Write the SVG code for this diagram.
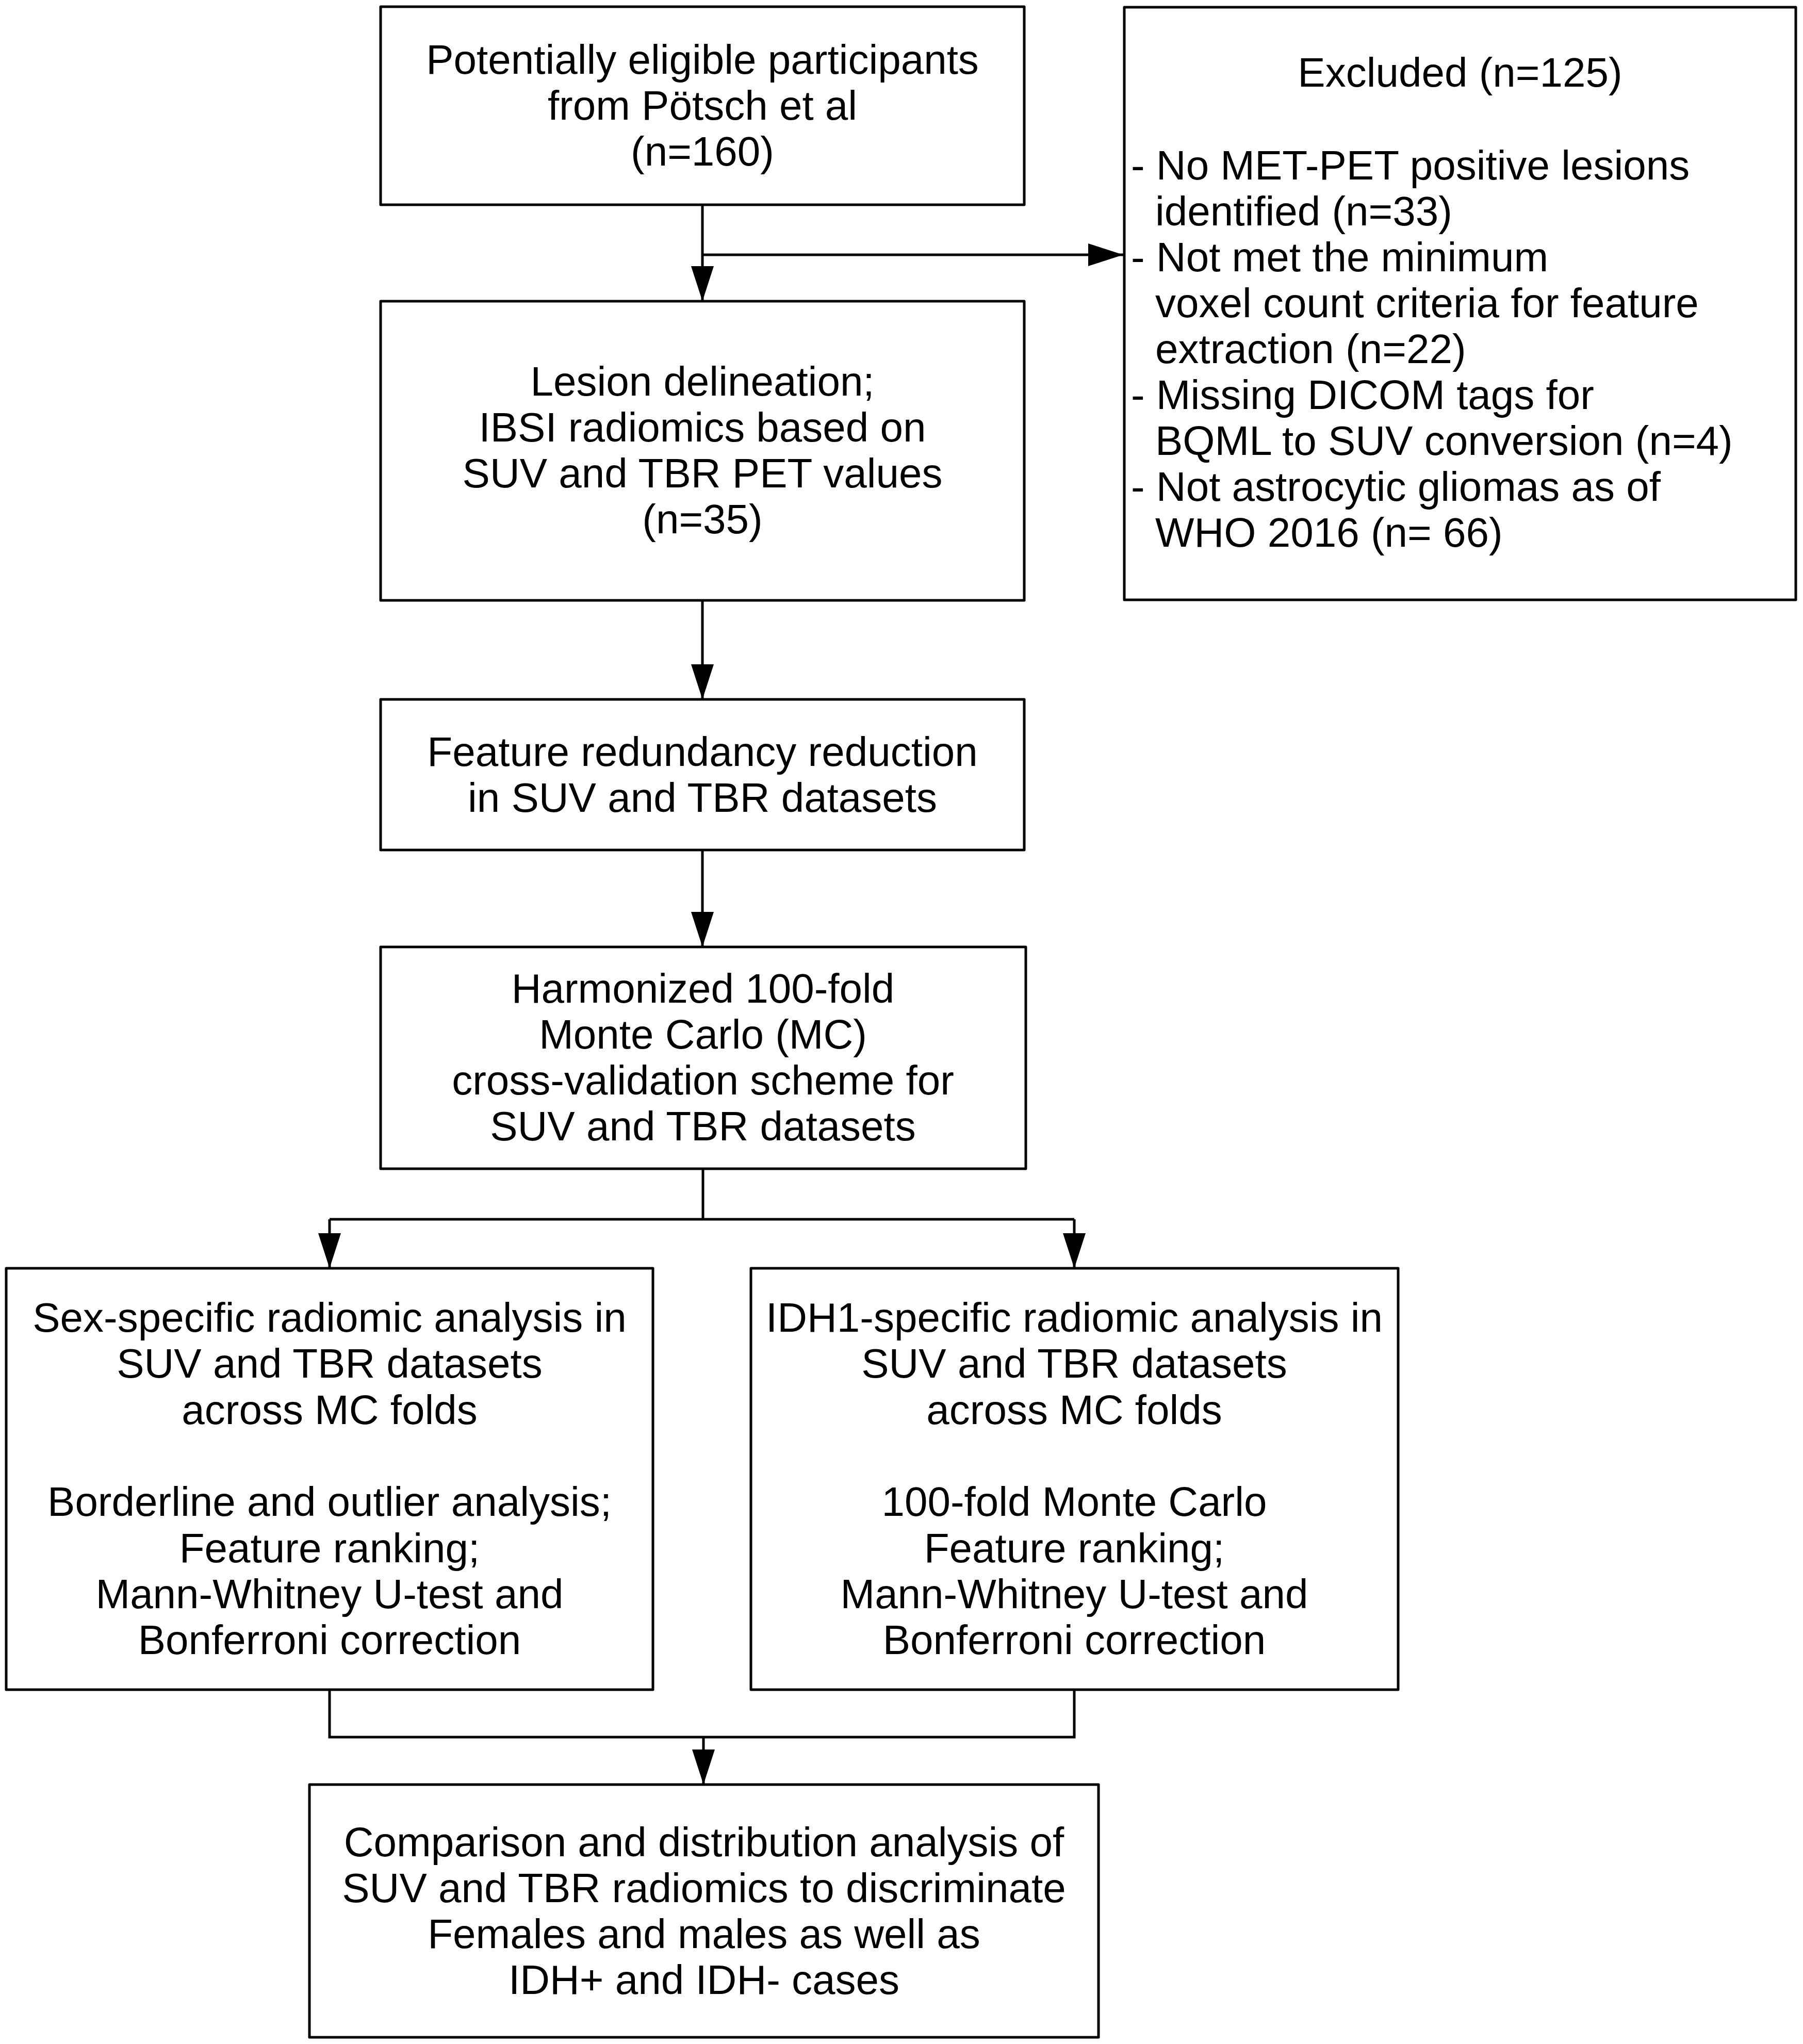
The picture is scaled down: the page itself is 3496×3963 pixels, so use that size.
<svg xmlns="http://www.w3.org/2000/svg" width="3496" height="3963" viewBox="0 0 3496 3963">
<style>
.box{fill:#fff;stroke:#000;stroke-width:5;stroke-linejoin:round}
.t{font-family:"Liberation Sans",Arial,sans-serif;font-size:80px;fill:#000}
.c{text-anchor:middle}
.conn{fill:none;stroke:#000;stroke-width:5}
</style>
<defs>
<marker id="arr" markerUnits="userSpaceOnUse" viewBox="0 0 68 44" markerWidth="68" markerHeight="44" refX="68" refY="22" orient="auto">
<path d="M0,0 L68,22 L0,44 z" fill="#000"/>
</marker>
</defs>
<rect width="3496" height="3963" fill="#fff"/>
<g id="connectors">
<path class="conn" d="M1362,397 V584" marker-end="url(#arr)"/>
<path class="conn" d="M1362,494 H2178" marker-end="url(#arr)"/>
<path class="conn" d="M1362,1164 V1356" marker-end="url(#arr)"/>
<path class="conn" d="M1362,1648 V1836" marker-end="url(#arr)"/>
<path class="conn" d="M1363,2266 V2364"/>
<path class="conn" d="M639,2364 H2083"/>
<path class="conn" d="M639,2364 V2459" marker-end="url(#arr)"/>
<path class="conn" d="M2083,2364 V2459" marker-end="url(#arr)"/>
<path class="conn" d="M639,3276 V3368 H2083 V3276"/>
<path class="conn" d="M1364,3368 V3460" marker-end="url(#arr)"/>
</g>
<g id="n_eligible">
<rect class="box" x="738" y="13" width="1248" height="384"/>
<text class="t c" x="1362" y="143">Potentially eligible participants</text>
<text class="t c" x="1362" y="232">from Pötsch et al</text>
<text class="t c" x="1362" y="321">(n=160)</text>
</g>
<g id="n_excluded">
<rect class="box" x="2180" y="14" width="1302" height="1149"/>
<text class="t c" x="2831" y="168">Excluded (n=125)</text>
<text class="t" x="2193" y="348">- No MET-PET positive lesions</text>
<text class="t" x="2240" y="437">identified (n=33)</text>
<text class="t" x="2193" y="526">- Not met the minimum</text>
<text class="t" x="2240" y="615">voxel count criteria for feature</text>
<text class="t" x="2240" y="704">extraction (n=22)</text>
<text class="t" x="2193" y="793">- Missing DICOM tags for</text>
<text class="t" x="2240" y="882">BQML to SUV conversion (n=4)</text>
<text class="t" x="2193" y="971">- Not astrocytic gliomas as of</text>
<text class="t" x="2240" y="1060">WHO 2016 (n= 66)</text>
</g>
<g id="n_lesion">
<rect class="box" x="738" y="584" width="1248" height="580"/>
<text class="t c" x="1362" y="767">Lesion delineation;</text>
<text class="t c" x="1362" y="856">IBSI radiomics based on</text>
<text class="t c" x="1362" y="945">SUV and TBR PET values</text>
<text class="t c" x="1362" y="1034">(n=35)</text>
</g>
<g id="n_redundancy">
<rect class="box" x="738" y="1356" width="1248" height="292"/>
<text class="t c" x="1362" y="1485">Feature redundancy reduction</text>
<text class="t c" x="1362" y="1574">in SUV and TBR datasets</text>
</g>
<g id="n_harmonized">
<rect class="box" x="738" y="1836" width="1251" height="430"/>
<text class="t c" x="1363" y="1944">Harmonized 100-fold</text>
<text class="t c" x="1363" y="2033">Monte Carlo (MC)</text>
<text class="t c" x="1363" y="2122">cross-validation scheme for</text>
<text class="t c" x="1363" y="2211">SUV and TBR datasets</text>
</g>
<g id="n_sex">
<rect class="box" x="12" y="2459" width="1254" height="817"/>
<text class="t c" x="639" y="2582">Sex-specific radiomic analysis in</text>
<text class="t c" x="639" y="2671">SUV and TBR datasets</text>
<text class="t c" x="639" y="2761">across MC folds</text>
<text class="t c" x="639" y="2939">Borderline and outlier analysis;</text>
<text class="t c" x="639" y="3029">Feature ranking;</text>
<text class="t c" x="639" y="3118">Mann-Whitney U-test and</text>
<text class="t c" x="639" y="3207">Bonferroni correction</text>
</g>
<g id="n_idh">
<rect class="box" x="1456" y="2459" width="1255" height="817"/>
<text class="t c" x="2083" y="2582">IDH1-specific radiomic analysis in</text>
<text class="t c" x="2083" y="2671">SUV and TBR datasets</text>
<text class="t c" x="2083" y="2761">across MC folds</text>
<text class="t c" x="2083" y="2939">100-fold Monte Carlo</text>
<text class="t c" x="2083" y="3029">Feature ranking;</text>
<text class="t c" x="2083" y="3118">Mann-Whitney U-test and</text>
<text class="t c" x="2083" y="3207">Bonferroni correction</text>
</g>
<g id="n_comparison">
<rect class="box" x="600" y="3460" width="1530" height="490"/>
<text class="t c" x="1365" y="3599">Comparison and distribution analysis of</text>
<text class="t c" x="1365" y="3688">SUV and TBR radiomics to discriminate</text>
<text class="t c" x="1365" y="3777">Females and males as well as</text>
<text class="t c" x="1365" y="3866">IDH+ and IDH- cases</text>
</g>
</svg>
